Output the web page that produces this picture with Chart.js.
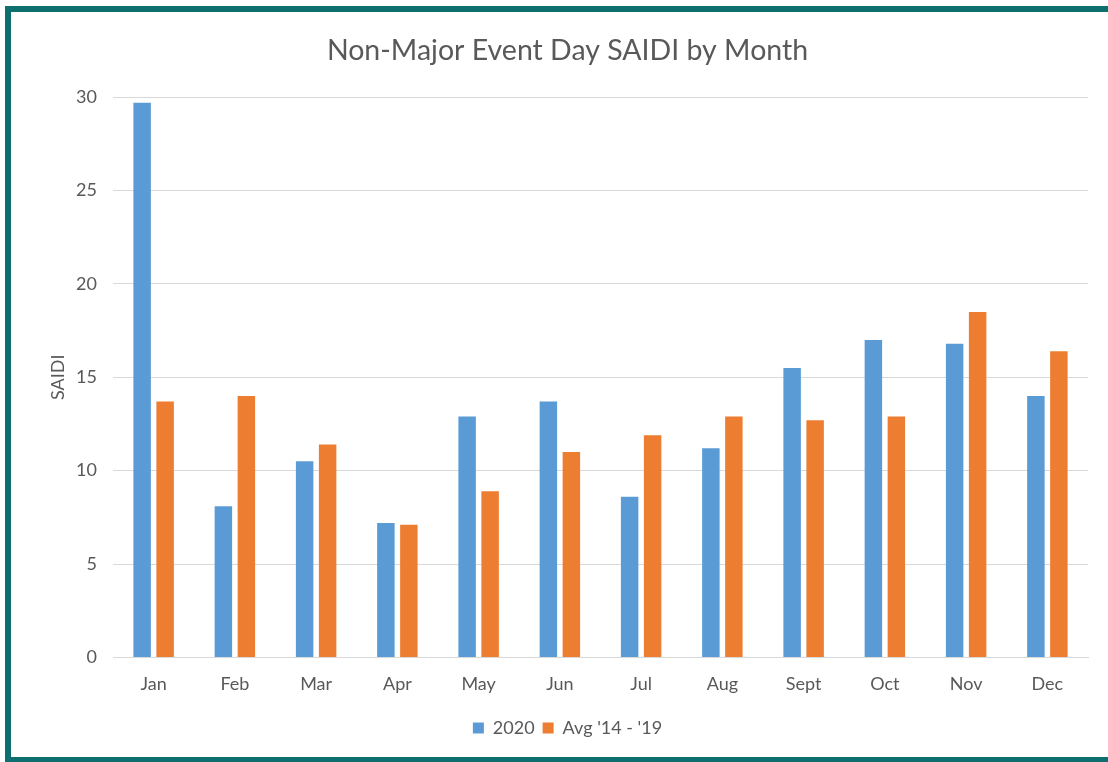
<!DOCTYPE html>
<html>
<head>
<meta charset="utf-8">
<title>Non-Major Event Day SAIDI by Month</title>
<script src="https://cdn.jsdelivr.net/npm/chart.js@4/dist/chart.umd.min.js"></script>
<style>
    html, body { margin: 0; padding: 0; background: #ffffff; overflow: hidden; width: 1108px; height: 762px; }
    .edge { position: absolute; background: #0e6f6f; }
    #edgeTop { left: 5px; top: 6px; width: 1103px; height: 6px; }
    #edgeLeft { left: 5px; top: 6px; width: 6px; height: 756px; }
    #edgeBottom { left: 5px; top: 757px; width: 1103px; height: 5px; }
    #wrap { position: absolute; left: 0; top: 0; width: 1108px; height: 762px; }
</style>
</head>
<body>
<div class="edge" id="edgeTop"></div>
<div class="edge" id="edgeLeft"></div>
<div class="edge" id="edgeBottom"></div>
<div id="wrap"><canvas id="saidiChart" width="1108" height="762"></canvas></div>
<script>
const months = ["Jan", "Feb", "Mar", "Apr", "May", "Jun", "Jul", "Aug", "Sept", "Oct", "Nov", "Dec"];
const saidi2020 = [29.7, 8.1, 10.5, 7.2, 12.9, 13.7, 8.6, 11.2, 15.5, 17.0, 16.8, 14.0];
const saidiAvg = [13.7, 14.0, 11.4, 7.1, 8.9, 11.0, 11.9, 12.9, 12.7, 12.9, 18.5, 16.4];
const yTicks = [0, 5, 10, 15, 20, 25, 30];

const textColor = "#595959";
const fontFamily = "Lato, 'Open Sans', sans-serif";

window.onload = function () {
    const ctx = document.getElementById("saidiChart").getContext("2d");

    new Chart(ctx, {
        type: "bar",
        data: {
            labels: months,
            datasets: [
                {
                    label: "2020",
                    data: saidi2020,
                    backgroundColor: "#5b9bd5",
                    categoryPercentage: 0.566,
                    barPercentage: 0.76
                },
                {
                    label: "Avg '14 - '19",
                    data: saidiAvg,
                    backgroundColor: "#ed7d31",
                    categoryPercentage: 0.566,
                    barPercentage: 0.76
                }
            ]
        },
        options: {
            responsive: false,
            animation: false,
            layout: { padding: { left: 47, right: 20, top: 0, bottom: 15 } },
            plugins: {
                title: {
                    display: true,
                    text: "Non-Major Event Day SAIDI by Month",
                    color: textColor,
                    font: { family: fontFamily, size: 28.5, weight: "normal" },
                    padding: { top: 34, bottom: 29 }
                },
                legend: {
                    position: "bottom",
                    labels: {
                        color: textColor,
                        font: { family: fontFamily, size: 18 },
                        boxWidth: 11,
                        boxHeight: 11,
                        padding: 8
                    }
                },
                tooltip: { enabled: false }
            },
            scales: {
                x: {
                    grid: { display: false, drawTicks: false },
                    border: { display: true, color: "#d9d9d9", width: 1 },
                    ticks: {
                        color: textColor,
                        font: { family: fontFamily, size: 18 },
                        padding: 16
                    }
                },
                y: {
                    min: 0,
                    max: 30,
                    afterBuildTicks: function (scale) {
                        scale.ticks = yTicks.map(v => ({ value: v }));
                    },
                    afterFit: function (scale) {
                        scale.width = 113 - 47;
                    },
                    grid: { color: "#d9d9d9", drawTicks: false },
                    border: { display: false },
                    ticks: {
                        color: textColor,
                        font: { family: fontFamily, size: 18 },
                        padding: 16
                    },
                    title: {
                        display: true,
                        text: "SAIDI",
                        color: textColor,
                        font: { family: fontFamily, size: 18 },
                        padding: 0
                    }
                }
            }
        }
    });
};
</script>
</body>
</html>
